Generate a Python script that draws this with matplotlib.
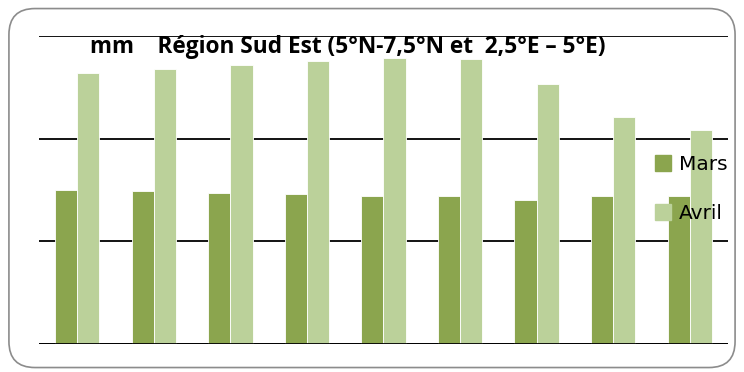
import matplotlib
matplotlib.use("Agg")
import matplotlib.pyplot as plt
from matplotlib.patches import FancyBboxPatch, Patch
import numpy as np

groups = list(range(1, 10))
mars = [150, 149, 147, 146, 144, 144, 140, 144, 144]
avril = [264, 268, 272, 276, 279, 278, 253, 221, 208]
series_names = ["Mars", "Avril"]
colors = ["#8BA54E", "#BBD19A"]

fig = plt.figure(figsize=(7.44, 3.72), dpi=100)
border = FancyBboxPatch((0.012, 0.012), 0.976, 0.965, boxstyle="round,pad=0,rounding_size=0.035",
                        transform=fig.transFigure, facecolor="none", edgecolor="#8c8c8c", lw=1.2,
                        mutation_aspect=2.0, zorder=10)
fig.patches.append(border)

ax = fig.add_axes([39/744, 1-344/372, (728-39)/744, (344-36)/372])
ax.set_facecolor("none")
x = np.arange(len(groups))
w = 0.29
ax.bar(x - w/2, mars, w, color=colors[0], edgecolor="white", linewidth=0.6, zorder=3)
ax.bar(x + w/2, avril, w, color=colors[1], edgecolor="white", linewidth=0.6, zorder=3)
ax.set_xlim(-0.5, len(groups) - 0.5)
ax.set_ylim(0, 300)
ax.set_yticks([0, 100, 200, 300])
ax.yaxis.grid(True, color="black", lw=1.3, zorder=0)
ax.set_axisbelow(True)
ax.set_xticks([])
ax.set_yticklabels([])
ax.tick_params(left=False, length=0)
for s in ax.spines.values():
    s.set_visible(False)
ax.axhline(0, color="black", lw=2, zorder=4)

fig.text(90/744, 1-47/372, "mm    Région Sud Est (5°N-7,5°N et  2,5°E – 5°E)",
         fontsize=16.3, fontweight="bold", family="Open Sans", va="center", ha="left")

handles = [Patch(color=c) for c in colors]
leg = fig.legend(handles, series_names, loc="center left", bbox_to_anchor=(645/744, 1-189/372),
                 frameon=False, fontsize=14.5, handlelength=0.8, handleheight=0.8,
                 labelspacing=1.5, handletextpad=0.4, borderpad=0)

fig.savefig("out.png", dpi=100)
